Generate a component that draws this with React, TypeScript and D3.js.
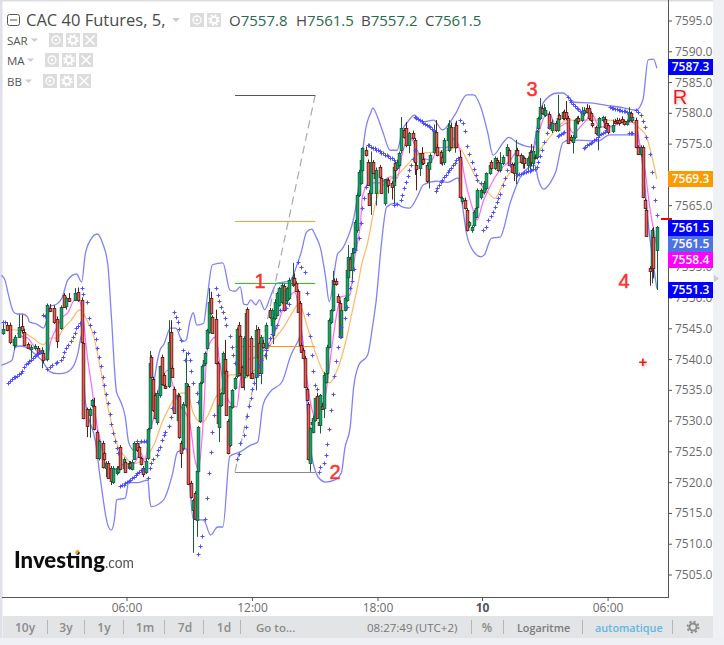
import React from "react";
import * as d3 from "d3";

type Bar = [number, number, number, number, number]; // slot, open, high, low, close
type Pt = [number, number]; // slot, price

const barsNight: Bar[] = [
[1,7544.3,7546.3,7544,7545],[3,7545.6,7546.1,7544.6,7544.8],[5,7545.6,7546,7542.5,7542.9],[7,7542.4,7543.7,7541.6,7543.3],[8,7542.4,7544,7542,7543.7],[10,7543.7,7547.3,7543.5,7545.3],[12,7545.4,7547.3,7544.2,7544.8],[13,7544.5,7545,7542.2,7542.4],[15,7542.5,7542.8,7541.7,7541.9],[17,7541.7,7542.4,7540.2,7542],[19,7541.9,7542.5,7541.5,7542.2],[21,7541.9,7542.2,7540.8,7541.1],[23,7541,7542,7538.6,7541.6],[24,7541,7541.4,7539.4,7539.9],[26,7540.1,7549.1,7539.7,7548.9],[28,7548.4,7549,7547.7,7547.9],[30,7548.4,7548.8,7545.8,7546.1],[32,7546.6,7547,7541.9,7543],[34,7545.1,7548.8,7544.8,7548.5],[36,7550.5,7550.8,7548.4,7548.5],[37,7548.7,7550.2,7548.1,7550],[39,7550,7550.8,7549.4,7549.5],[42,7549.7,7551.6,7549.5,7550.8],[44,7551,7551.7,7549.4,7549.7],[46,7549.7,7550.1,7542.6,7542.9],[47,7542.7,7543,7530.3,7530.5],[49,7532,7532.2,7527.4,7529.2],[51,7531,7532.2,7527.3,7532],[52,7532.6,7533.6,7532.2,7533.4],[53,7532.5,7533.8,7528.5,7528.7],[55,7528.2,7528.5,7523.9,7524],[56,7524,7527,7523.6,7526.8],[58,7526.5,7526.8,7522.3,7522.6],[59,7524.8,7525,7523.6,7523.9],[60,7522.4,7523.5,7520.9,7523.2],[61,7523.2,7523.5,7520.6,7520.8],[63,7522.4,7522.7,7519.6,7520.3],[64,7520.1,7522.7,7519.8,7522.4],[66,7521.6,7522.7,7521.2,7522.4],[67,7521.8,7522.7,7521.5,7522.4],[68,7525.8,7526.1,7522,7522.2],[70,7522.4,7524.1,7522,7523.9],[71,7523.4,7523.6,7521.6,7521.8],[73,7522.4,7523.5,7522.1,7523.2],[74,7523.2,7523.5,7522.2,7522.6],[75,7522.2,7523.7,7522,7523.4],[76,7523.9,7526.7,7523.7,7526.5],[78,7526.5,7526.8,7525,7525.3],[79,7525.8,7526,7524,7524.2],[80,7524,7524.2,7522.8,7523],[81,7522.4,7522.7,7520.9,7521.4],[83,7521.7,7524,7521.4,7523.5],[84,7524,7528.9,7523.7,7528.7],
];
const barsMorning: Bar[] = [
[85,7528.9,7541.4,7528.7,7539.4],[86,7540.4,7540.7,7537,7537.2],[87,7536.8,7537.2,7531.5,7531.8],[88,7534.2,7534.6,7530.3,7530.5],[89,7529.9,7535,7529.4,7534.6],[91,7534.2,7539,7533.8,7538.9],[92,7540.4,7540.8,7535.8,7536],[93,7537.5,7537.8,7535.7,7535.9],[94,7535.7,7536,7535.2,7535.4],[96,7535.7,7546.4,7535.4,7542.9],[97,7544.5,7546.4,7538.4,7538.6],[98,7538.6,7539,7537,7537.2],[99,7535.2,7535.6,7531.2,7531.3],[101,7530.2,7534.6,7529.9,7534.2],[102,7534.1,7534.4,7527.1,7527.4],[103,7526.5,7526.8,7522.4,7524.8],[104,7525.6,7533.1,7525.2,7532.8],[106,7532.6,7541.2,7532.2,7536.2],[107,7535.7,7536,7519.6,7519.8],[109,7520,7520.3,7517.4,7517.6],[110,7515.6,7517.4,7508.6,7517.2],[111,7518.3,7518.6,7514,7514.1],[112,7513.9,7522.1,7511.2,7521.9],[113,7521.9,7529.2,7521.6,7529],[114,7530,7536.4,7529.7,7536.2],[115,7536.4,7539.2,7536,7539],[116,7539.1,7540.2,7538.9,7539.9],[117,7539.4,7541.3,7539.2,7541],[118,7541.9,7545,7541.6,7544.8],[119,7544.5,7551.6,7544.2,7549.4],[120,7550,7551,7547.3,7547.6],[121,7546.9,7547.2,7544.2,7544.3],[123,7546.6,7548.1,7539.2,7539.4],[124,7539.4,7539.7,7529.5,7529.7],[125,7529.1,7532.7,7526.6,7532.6],[126,7532.6,7534.7,7532.3,7534.6],[127,7534.6,7541.3,7534.3,7541.1],[128,7540.1,7543.2,7537.6,7537.8],[129,7538.1,7538.4,7531,7531],[130,7530,7530.3,7524.6,7524.8],[131,7526.1,7532.5,7525.8,7532.5],[132,7532.3,7535.2,7532,7535.1],[134,7535.4,7537.2,7535.1,7537],[135,7537.3,7545.2,7537,7545],[136,7545.6,7546.1,7537.3,7537.5],[137,7543.8,7544.1,7537.6,7537.8],[138,7538.8,7539,7535.4,7535.6],[139,7537.2,7543.8,7535,7543.5],[140,7537.8,7548.1,7537.5,7547.6],[141,7548.2,7548.5,7537.2,7537.5],
];
const barsMidday: Bar[] = [
[143,7543.5,7543.8,7537,7537],[144,7537.8,7538,7536.8,7537],[146,7537.2,7545.6,7535,7544.8],[147,7545,7545.3,7540.2,7540.4],[148,7542.7,7543,7537.6,7537.8],[149,7537.8,7544,7536,7543.7],[150,7542.7,7543.2,7541.8,7542.1],[152,7541.9,7546,7540,7545.6],[154,7548.1,7548.4,7546.6,7546.9],[155,7545.6,7548.3,7544,7548.1],[156,7544,7547,7542.5,7546.8],[157,7546.8,7549.8,7546.4,7549.4],[158,7547.2,7551,7547,7550.8],[159,7548.9,7551.8,7548.6,7551.6],[161,7549.4,7552.4,7549,7552.1],[162,7552,7552.3,7547.8,7548.1],[163,7549.2,7551.6,7549,7551.3],[164,7549.7,7551.8,7549,7551.6],[165,7550,7553.3,7549.7,7552.9],[167,7552.1,7555.7,7551.8,7553.4],[168,7553.3,7554,7552,7552.3],[169,7552.4,7552.7,7551,7551.1],[170,7551.1,7551.4,7547.7,7547.7],[171,7549.2,7549.5,7542.1,7542.4],[172,7542.4,7542.7,7541.1,7541.2],[173,7541.6,7541.9,7540.1,7540.3],[174,7540.3,7540.6,7535.4,7535.6],[175,7535.2,7535.5,7533.2,7533.4],[176,7532.8,7533.1,7523.6,7523.9],[177,7523.2,7529,7521.8,7528.9],[178,7529.9,7530.2,7529.4,7529.5],[179,7528.2,7530.9,7528,7530.5],[180,7530.2,7533.8,7529.9,7533.8],[181,7534.1,7534.6,7530.5,7530.5],[182,7529.9,7530.2,7529.2,7529.4],[183,7529.4,7534.4,7528,7534.2],[184,7532.5,7533,7531.8,7532],[185,7532.1,7538,7530.5,7537.5],[186,7536.4,7538.2,7536.1,7537.8],[187,7537.8,7542.4,7537.5,7542.1],[188,7542.1,7546.7,7541.8,7546.4],[189,7546.1,7548.2,7545.8,7548.1],[190,7548.1,7554.4,7547.8,7552.9],[191,7552.8,7553.2,7552,7552.3],[192,7552.8,7553.2,7552,7552.3],[193,7550.3,7550.7,7549.2,7549.4],[194,7549.2,7549.6,7543.4,7543.7],[195,7543.7,7548.3,7543.4,7548.1],[197,7548.1,7550.2,7547.8,7550],[198,7549.7,7554.8,7549.4,7554.6],
];
const barsEvening: Bar[] = [
[199,7553.4,7558.6,7553,7556.7],[200,7556.3,7556.7,7554.4,7554.6],[201,7554.6,7558.1,7553,7557.3],[202,7557.5,7559,7557.2,7558.1],[203,7557.8,7562.7,7557.5,7562.3],[204,7561,7567,7560.6,7566.7],[205,7566.7,7570.8,7566.4,7570.5],[206,7568.7,7572.6,7568.4,7572.4],[207,7570.8,7574.5,7570.5,7574.4],[209,7574,7574.6,7573,7573.2],[210,7572.1,7572.5,7568.4,7568.4],[211,7567.1,7567.5,7565,7565.1],[212,7567.1,7573.8,7563.5,7572.1],[213,7572.1,7572.4,7570.2,7570.3],[214,7570.3,7570.6,7569.3,7569.5],[215,7567.1,7571.2,7565,7570.8],[217,7571.3,7571.6,7569.5,7569.7],[218,7569.5,7569.8,7567,7567.1],[220,7565.4,7569.3,7565,7569.3],[221,7568.7,7569.4,7568,7569.2],[222,7569.2,7569.5,7567,7568.4],[224,7568.7,7569,7566,7568],[225,7568.4,7571.6,7565,7571.3],[226,7571.9,7572.2,7568.8,7570.8],[227,7571.1,7572.5,7570.8,7572.1],[228,7571.6,7573.8,7571.2,7573.5],[229,7574,7579.4,7573.5,7577.6],[231,7577.3,7577.6,7575.9,7576.2],[232,7577.6,7578.6,7574.5,7574.9],[234,7574.9,7577,7573.5,7576.8],[236,7576.8,7577.2,7575.7,7576],[237,7575.7,7576,7570,7572.1],[238,7571.6,7572,7567.5,7571],[240,7571.1,7573.5,7569.8,7573.5],[241,7573.5,7574.5,7571.6,7572.1],[242,7572.6,7573,7571.6,7571.9],[244,7571.6,7572,7568.7,7569],[245,7571,7572.3,7567.8,7572.1],[246,7572.1,7573.5,7571.8,7573.2],[248,7573.7,7578.2,7573.4,7577.1],[249,7577,7578.9,7574,7574],[250,7574.5,7575,7573,7573.2],[252,7573.7,7574,7571.7,7571.9],[253,7572.9,7573.2,7571.5,7572.1],[254,7572.1,7576,7571.6,7575.7],[256,7575.7,7578.4,7575.4,7577.6],[257,7574,7578.9,7573.7,7578.1],[258,7577.8,7578.5,7574.3,7574.5],[260,7574.5,7578.5,7573.6,7577.8],[261,7578.1,7578.8,7574.3,7574.5],
];
const barsAsia: Bar[] = [
[263,7572.9,7574,7566.2,7566.4],[264,7565.8,7566.5,7565.2,7566.2],[266,7565.9,7566.3,7564.4,7564.6],[267,7564.3,7564.6,7560.8,7561],[268,7561.9,7562.5,7561.4,7562.3],[270,7561,7561.8,7560.6,7561.5],[271,7561.9,7564.3,7561.5,7564],[272,7563.2,7564.9,7563,7564.6],[273,7564.8,7567.8,7564.4,7567.5],[275,7566.4,7567.8,7566,7567.5],[276,7567.5,7568,7567,7567.2],[277,7567.2,7569,7566.8,7568.7],[278,7567.9,7570.4,7567.5,7570.3],[280,7570.3,7571.8,7570,7571.6],[281,7572.1,7572.4,7570.8,7571.1],[283,7571.1,7573,7570.8,7572.7],[284,7572.4,7572.8,7571.6,7571.9],[285,7572.1,7572.4,7570.5,7570.8],[286,7570.8,7573.7,7570.4,7571.9],[288,7571.9,7573.2,7571.6,7572.9],[290,7573.2,7575,7573,7574.5],[291,7574,7574.3,7571.4,7571.6],[293,7571.8,7572,7570.3,7570.5],[294,7571.6,7572,7569,7570.3],[295,7570.3,7575.7,7568.5,7574],[296,7574,7574.4,7573,7573.2],[298,7573.2,7573.5,7571.8,7572.1],[299,7571.9,7573.2,7571,7572.9],[300,7572.7,7573,7571,7571.9],[302,7571.6,7573,7570.5,7572.7],[303,7571.9,7574,7570.5,7573.7],[304,7573.7,7575,7571.4,7572.1],[305,7571.9,7574.6,7570.8,7573.9],[306,7572.9,7573.3,7572.5,7572.7],[307,7572.9,7577.3,7572.5,7577.1],[308,7577.6,7579.4,7577.2,7579.2],[309,7579.2,7582.5,7578.9,7581],[310,7580.9,7581.3,7579.8,7580],[311,7579.9,7581.5,7579.5,7580.5],[312,7579.7,7581,7579.4,7580.5],[314,7579.9,7580.3,7577.4,7577.6],[315,7578.3,7578.6,7577.2,7577.6],[316,7577.3,7579,7576.8,7578.4],[318,7578.4,7578.8,7577,7577.3],[319,7577.3,7583,7577,7579.2],[320,7579.7,7580,7578.9,7579.1],
];
const barsOpen: Bar[] = [
[322,7579.2,7580.4,7578.9,7580.2],[323,7580.2,7580.6,7578.9,7579.2],[324,7580.2,7582,7578.9,7579.2],[325,7579.2,7579.6,7575,7575.2],[327,7576.2,7576.5,7575.4,7575.7],[328,7575.3,7576.5,7573.5,7576.2],[329,7576.2,7579.1,7575.8,7578.9],[330,7578.6,7579.5,7578.2,7579.2],[331,7579.2,7579.6,7578.2,7578.7],[333,7578.9,7581,7578.6,7580.2],[334,7580,7581,7579.6,7580.5],[336,7580.9,7581.5,7580,7580.2],[337,7580.9,7581.3,7578.9,7579.2],[338,7580,7580.3,7578.6,7578.9],[339,7578.4,7578.8,7577.7,7578.1],[341,7577.8,7578,7576.5,7576.8],[342,7576.5,7578,7574,7577.8],[343,7577.8,7579.4,7577.4,7579.2],[345,7578.9,7579.6,7578.5,7579.4],[346,7579.1,7579.5,7577.5,7577.8],[347,7578.4,7578.8,7577.2,7577.6],[348,7578.1,7578.4,7576.6,7577],[351,7577.1,7579,7576.8,7578.1],[352,7578.7,7579.1,7578.2,7578.4],[353,7578.9,7579.3,7578.2,7578.6],[354,7578.9,7579.2,7578,7578.4],[356,7579.1,7579.5,7578.4,7578.6],[357,7578.7,7579,7578,7578.3],[359,7578.3,7579,7578,7578.7],[360,7578.9,7581,7578.6,7580.2],[361,7580,7580.3,7578.6,7578.9],[362,7578.9,7579.6,7578.5,7579.4],[364,7578.9,7579.3,7574.3,7574.5],[365,7574.5,7574.8,7573.2,7573.4],[367,7573.4,7574.8,7573,7574.5],[368,7574.5,7574.8,7566.2,7566.4],[369,7565.9,7566.2,7564.4,7564.6],[370,7564.3,7564.6,7560,7560.1],[372,7554.9,7555.2,7552,7554.4],[373,7555,7561.3,7552.4,7561],[374,7559.9,7561.5,7553.2,7554.9],[376,7557.8,7561.7,7551.3,7561.5],
];

const bbUpper: Pt[] = [
[0,7553.7],[2,7552.9],[4,7550.5],[7,7547.7],[9,7547.4],[12,7547.4],[15,7546.9],[16,7546.1],[20,7545.8],[24,7545.1],[26,7546.4],[28,7548.7],[31,7548.9],[35,7550.2],[38,7552.9],[43,7553.9],[46,7552.6],[48,7557],[51,7559.4],[55,7560.4],[58,7558.9],[61,7555.4],[63,7547.2],[66,7534.7],[68,7533.4],[71,7530.7],[73,7526.5],[76,7525.3],[80,7526.5],[84,7526.6],[87,7535.1],[91,7541.6],[93,7542.4],[97,7545.1],[100,7545.1],[104,7542.9],[106,7543.2],[108,7546.1],[110,7547.6],[112,7545.6],[116,7545.9],[118,7550],[121,7555.4],[127,7555.7],[131,7551.3],[134,7551.1],[137,7551.8],[139,7549],[141,7548.9],[143,7549.7],[146,7548.9],[148,7549.7],[151,7548.1],[154,7550],[158,7552.4],[163,7552.6],[166,7552.9],[168,7554.2],[172,7557.5],[175,7560.7],[178,7561.2],[180,7560.2],[183,7558.1],[186,7553.3],[188,7549.4],[193,7557.3],[194,7557.5],[198,7559.4],[203,7564.3],[206,7570.8],[209,7577.6],[212,7580.2],[213,7580.9],[216,7579.2],[219,7576.8],[223,7574],[227,7574],[230,7577.3],[233,7578.6],[237,7579.7],[241,7578.6],[248,7578.9],[253,7577.3],[260,7579.7],[267,7583],[271,7583],[275,7581],[279,7576.8],[282,7573.2],[288,7575.3],[291,7576.1],[296,7575.2],[305,7574.5],[307,7577.3],[311,7581.8],[319,7583.3],[322,7583.3],[329,7581.8],[338,7581.7],[347,7581.3],[357,7580.9],[364,7580.5],[368,7582.2],[371,7588.7],[374,7588.8],[376,7587.3],
];
const bbLower: Pt[] = [
[0,7539.1],[3,7539.4],[6,7539.9],[8,7542],[11,7542.2],[15,7541.9],[18,7541.2],[23,7539.9],[28,7538],[32,7537.7],[36,7537.8],[41,7538.8],[44,7541.2],[46,7544],[48,7533.4],[54,7526.5],[57,7520],[61,7513.1],[63,7512.3],[65,7514.4],[66,7517.2],[71,7517.5],[73,7520],[78,7520],[84,7520.4],[85,7517.2],[86,7516.1],[93,7517.2],[98,7521.3],[101,7525],[106,7525.5],[110,7514.1],[116,7513.9],[120,7511.5],[124,7512.8],[127,7512.8],[131,7524.3],[137,7525],[143,7526.1],[147,7526.6],[150,7532.6],[154,7534.7],[161,7536.4],[166,7540.7],[170,7542.9],[172,7544],[177,7526.1],[182,7520.8],[186,7520.1],[191,7520.4],[195,7521.6],[197,7525.6],[200,7528.9],[202,7535.4],[205,7539.1],[210,7540.7],[213,7545.6],[215,7549.7],[218,7558.9],[221,7564.8],[226,7565.4],[230,7564.8],[234,7564.6],[239,7566.7],[242,7568.4],[250,7569],[256,7568.8],[262,7569.5],[264,7565.9],[267,7560.2],[271,7557.5],[275,7556.7],[277,7557],[281,7559.7],[286,7559.9],[292,7565.6],[298,7569.8],[306,7571.6],[308,7569.2],[311,7567.7],[315,7568.8],[318,7570.5],[322,7575.2],[326,7575.7],[342,7575.5],[349,7576.5],[364,7576.5],[368,7571.3],[371,7562.2],[376,7551.5],
];
const maFast: Pt[] = [
[9,7544.3],[12,7543.7],[15,7543.5],[18,7542.4],[23,7541.2],[26,7539.9],[28,7542.7],[31,7544.8],[35,7546.9],[38,7547.6],[42,7549.7],[45,7549.4],[47,7546.4],[49,7541.1],[52,7535.1],[55,7529],[57,7526.5],[59,7523.4],[62,7522.1],[65,7522.1],[69,7522.9],[76,7523.2],[80,7524.8],[82,7523.4],[85,7528.1],[88,7531.3],[91,7536.2],[96,7538.3],[98,7536.2],[101,7533.4],[108,7529.7],[111,7523.7],[113,7522.1],[116,7531.3],[118,7541.6],[123,7543.7],[125,7539.9],[128,7535.1],[131,7533],[135,7532.3],[137,7536.7],[141,7539.9],[146,7540.4],[151,7541.6],[158,7545.3],[162,7548.6],[166,7550.5],[168,7551],[171,7547.6],[174,7539.9],[177,7533.4],[180,7530.7],[184,7532.3],[186,7534.3],[188,7538.6],[193,7548.4],[195,7550.2],[200,7550.5],[202,7555.4],[205,7560.2],[206,7562.2],[207,7566.4],[211,7568.7],[217,7568.7],[223,7569.7],[227,7569.5],[230,7573.5],[234,7576.2],[239,7573.7],[242,7572.7],[247,7572.4],[250,7574.4],[256,7574.5],[260,7576],[263,7574],[266,7569.2],[270,7564.8],[273,7562.7],[276,7565.4],[280,7568],[286,7570.8],[292,7572.4],[295,7573.5],[302,7571.9],[307,7575.7],[312,7579.7],[314,7580],[319,7577.6],[324,7578.4],[328,7576.8],[334,7578.4],[339,7579.7],[343,7577.8],[349,7577.8],[355,7578.4],[361,7578.6],[364,7578.4],[366,7575.3],[369,7571.1],[372,7564.6],[376,7558.4],
];
const maSlow: Pt[] = [
[5,7544.8],[9,7544.8],[13,7544.3],[18,7543.5],[24,7542.4],[28,7543.5],[32,7543.5],[35,7544.8],[40,7546.4],[45,7548.1],[49,7546.4],[53,7543.7],[55,7541.1],[58,7536.7],[61,7532.3],[64,7528.6],[67,7525.7],[71,7524.2],[75,7523.1],[80,7523.4],[84,7524.5],[88,7526.5],[92,7529.7],[97,7532.6],[101,7534.3],[104,7534.6],[107,7534.3],[110,7531.3],[115,7529.7],[118,7530.7],[123,7533.9],[127,7535.5],[131,7537.5],[135,7537.5],[140,7537],[144,7538],[148,7539.1],[155,7542.7],[162,7545.3],[167,7547.7],[170,7548.9],[172,7548.4],[176,7544.8],[180,7541.2],[184,7538.3],[188,7536.2],[193,7538.6],[198,7543.5],[202,7548.9],[205,7552.9],[206,7554.6],[210,7558.9],[215,7565.9],[220,7568.7],[226,7569.7],[234,7572],[240,7573.5],[248,7573.7],[256,7574],[262,7574.5],[268,7571.9],[273,7569.2],[279,7567.2],[283,7566.2],[288,7568.7],[296,7571.9],[305,7572.7],[311,7574.9],[319,7577.6],[324,7578.9],[334,7578.9],[347,7578.9],[361,7578.6],[365,7577.8],[370,7576.2],[373,7573.2],[376,7569.3],
];

const sarEarly: Pt[] = [
[1,7546.1],[2,7546.1],[4,7536.2],[5,7536.5],[6,7536.9],[7,7537.1],[8,7537.2],[9,7537.4],[10,7537.6],[11,7537.8],[12,7538.2],[13,7538.8],[14,7539.2],[15,7539.5],[16,7539.8],[17,7540],[18,7540.3],[19,7540.5],[20,7540.7],[21,7540.9],[22,7541.2],[24,7547.3],[25,7547.1],
[26,7538.5],[28,7538.8],[29,7539.1],[31,7539.4],[32,7539.6],[34,7539.9],[35,7540.4],[36,7541.2],[37,7541.9],[38,7542.4],[40,7543],[41,7543.7],[42,7544.3],[43,7545.1],[44,7545.5],[45,7546],
[46,7551.6],[47,7550.6],[49,7549.3],[50,7546.8],[51,7545.6],[53,7544.5],[54,7543.3],[55,7541.9],[56,7540.4],[57,7539],[58,7537.2],[59,7535.9],[60,7534.4],[61,7533],[62,7531.2],[63,7529.5],[64,7528.1],[65,7526.8],[66,7525.6],[67,7524.8],
[68,7519.5],[69,7519.6],[70,7519.7],[71,7519.9],[72,7520.1],[73,7520.3],[74,7520.5],[75,7520.8],[76,7521],[77,7521.3],[78,7521.6],[79,7521.8],[80,7522],[81,7522.2],
[78,7526.7],[80,7526.7],[82,7526.7],[83,7526.7],
];
const sarMorning: Pt[] = [
[84,7520.7],[85,7522.4],[86,7523.2],[87,7523.8],[89,7524.5],[90,7525.3],[91,7525.8],[92,7526.9],[93,7527.7],[94,7528.2],[96,7529.2],[97,7530.7],[98,7532.1],
[99,7547.7],[100,7546.9],[101,7546.1],[102,7545],[103,7543.2],[104,7541.6],[105,7539.9],[107,7541],[108,7539.9],[109,7538.1],[110,7536.2],[112,7534.6],[113,7533.1],
[113,7508.4],[114,7509.7],[115,7511.3],[117,7514.1],[118,7517.5],[119,7521.6],[120,7525],[121,7528.3],[122,7531],
[123,7551.6],[124,7550.5],[125,7549.5],[126,7548.5],[127,7547.7],[128,7546.7],[129,7545.6],[131,7543.8],[132,7542],[133,7540.7],[134,7539.4],
[135,7523.8],[136,7524.7],[137,7526.4],[139,7527.7],[140,7529],[141,7530.8],[142,7532.5],[143,7533.8],[144,7535.2],[145,7536.2],[147,7537.5],[148,7539],[149,7539.9],[151,7540.7],[152,7541.6],[153,7542.4],[154,7543.5],[155,7544.2],[157,7545.1],[158,7545.6],[160,7548],[163,7548.4],[165,7549],
];
const sarMidday: Pt[] = [
[170,7555.8],[172,7555],[174,7554.2],[175,7550.8],[176,7547.4],[177,7543.8],[178,7540.7],[179,7538.1],[180,7535.9],[181,7535.2],
[182,7521.7],[183,7522.5],[185,7523.2],[186,7524.5],[187,7526.3],[188,7528.7],[189,7531.8],[190,7534.4],[191,7537.3],[192,7539.8],[193,7542],[194,7543.8],[195,7545.3],[197,7546.8],[198,7548.5],[200,7551.6],[201,7552.8],[202,7554.7],[203,7557.8],[205,7559.8],[206,7562.2],[207,7564.6],[208,7566.2],[209,7568],
[210,7574.9],[211,7574.8],[212,7574.6],[213,7574.4],[214,7574.3],[215,7574.1],[216,7574],[217,7573.8],[218,7573.6],[219,7573.5],[220,7573.3],[221,7573.2],[222,7573],[223,7572.8],[224,7572.7],[225,7572.5],
[225,7565.1],[227,7565.3],[229,7565.9],[230,7566.7],[231,7567.9],[232,7568.9],[233,7569.8],[234,7570.8],[235,7571.6],[236,7572.6],[237,7574],
[237,7579.4],[238,7579.2],[239,7579],[240,7578.9],[241,7578.7],[242,7578.5],[243,7578.3],[244,7578.1],[245,7577.9],[246,7577.7],[247,7577.5],[248,7577.3],
[249,7567.4],[250,7567.9],[251,7568.3],[252,7568.8],[253,7569.2],[254,7569.6],[255,7570],[256,7570.4],[257,7570.8],[258,7571.2],[259,7571.6],[260,7572],[261,7572.4],[262,7572.8],
];
const sarLate: Pt[] = [
[263,7578.9],[265,7578.4],[266,7577.1],[267,7574.7],[268,7573.4],[270,7572.1],[271,7571],[272,7570],[273,7569.2],[275,7568.7],
[276,7561],[278,7561.5],[279,7562.7],[281,7563.3],[282,7564],[283,7564.8],[284,7565.6],[285,7566.2],[286,7566.9],[288,7568.4],[289,7569.5],[290,7570.8],[292,7571.6],
[296,7570],[297,7570.1],[298,7570.2],[299,7570.3],[300,7570.4],[301,7570.5],[302,7570.6],[303,7570.7],[304,7570.8],[305,7570.9],[306,7571],[307,7571.3],[308,7572.1],[309,7573.1],[310,7574],[311,7575.3],[313,7576.8],[314,7577.8],
[319,7576.3],[320,7576.4],[321,7576.6],[322,7576.8],[323,7576.9],
[325,7582.6],[326,7582.2],[327,7581.8],[328,7581.5],[329,7581.2],[330,7580.9],[331,7580.7],[332,7580.4],[333,7580.2],
[334,7574.4],[335,7574.6],[336,7574.8],[337,7575],[338,7575.2],[339,7575.4],[340,7575.7],[341,7575.9],[342,7576.1],[343,7576.4],[344,7576.6],[345,7576.8],[346,7577],[347,7577.3],
[349,7581],[350,7580.9],[351,7580.8],[352,7580.7],[353,7580.7],[354,7580.6],[355,7580.5],[356,7580.4],[357,7580.3],[358,7580.3],[359,7580.2],
[360,7576.8],[361,7576.8],[362,7576.8],
[364,7580.5],[365,7580.2],[367,7579.7],[368,7578.7],[369,7577.8],[370,7576.2],[372,7573.4],[373,7570.5],[374,7568],[375,7565.9],[376,7563.5],
];

// 7560 and 7570 sit fully behind price tags in the reference, so no label is drawn for them
const priceTicks = [7505, 7510, 7515, 7520, 7525, 7530, 7535, 7540, 7545, 7550, 7555, 7565, 7575, 7580, 7585, 7590, 7595];
const tickMarks = d3.range(7505, 7596, 5);
const timeTicks: [number, string, boolean][] = [[72, "06:00", false], [144, "12:00", false], [216, "18:00", false], [276, "10", true], [348, "06:00", false]];
const rangeButtons: [string, number][] = [["10y", 25], ["3y", 66], ["1y", 104], ["1m", 145], ["7d", 185], ["1d", 224]];
const rangeSeparators = [47, 84, 123, 164, 203, 240];
const footSeparators = [471, 503, 582, 672];
const fibLevels: [number, string][] = [[7583, "#555"], [7562.5, "#e8a040"], [7552.4, "#22cc22"], [7542.2, "#ff9900"], [7521.8, "#888"]];
const priceTags: [string, number, string][] = [["7587.3", 67, "#0000ff"], ["7569.3", 179, "#ff9900"], ["7561.5", 228, "#0000ff"], ["7561.5", 244, "#4f72e3"], ["7558.4", 260, "#ff00ff"], ["7551.3", 290, "#0000ff"]];
const ohlcLegend: [string, string, number][] = [["O", "7557.8", 229], ["H", "7561.5", 296], ["B", "7557.2", 361], ["C", "7561.5", 425]];
const indicatorRows: [string, number, number][] = [["SAR", 40, 49], ["MA", 60, 45], ["BB", 81, 43]];
const waveLabels: [string, number, number][] = [["1", 260, 288], ["2", 335, 479], ["3", 532, 96], ["4", 624, 288]];

const x = d3.scaleLinear().domain([0, 376]).range([1.5, 1.5 + 376 * 1.743]);
const y = d3.scaleLinear().domain([7505, 7595]).range([575, 21]);
const line = d3.line<Pt>().x((d) => x(d[0])).y((d) => y(d[1])).curve(d3.curveMonotoneX);

const allBars = [...barsNight, ...barsMorning, ...barsMidday, ...barsEvening, ...barsAsia, ...barsOpen];
const allSar = [...sarEarly, ...sarMorning, ...sarMidday, ...sarLate];

const UI = "'Open Sans','Noto Sans',sans-serif";

function IconBox({ px, py, kind }: { px: number; py: number; kind: "eye" | "gear" | "x" }) {
  const c = px + 7;
  const m = py + 7;
  return (
    <g>
      <rect x={px} y={py} width={14} height={14} fill="#dcdcdc" />
      {kind === "eye" && <><circle cx={c} cy={m} r={4} fill="none" stroke="#fff" strokeWidth={1.3} /><circle cx={c} cy={m} r={1.3} fill="#fff" /></>}
      {kind === "gear" && <><circle cx={c} cy={m} r={3.3} fill="none" stroke="#fff" strokeWidth={2} /><circle cx={c} cy={m} r={5} fill="none" stroke="#fff" strokeWidth={1.6} strokeDasharray="2 1.9" /></>}
      {kind === "x" && <path d={`M${c - 4.5},${m - 4.5}L${c + 4.5},${m + 4.5}M${c + 4.5},${m - 4.5}L${c - 4.5},${m + 4.5}`} stroke="#fff" strokeWidth={1.6} />}
    </g>
  );
}

export default function App() {
  const fibX0 = 134;
  const fibX1 = 180;
  return (
    <svg width={724} height={645} style={{ position: "absolute", left: 0, top: 0, background: "#fff" }}>
      <defs>
        <filter id="soft" x="-50%" y="-50%" width="200%" height="200%">
          <feDropShadow dx="1" dy="1.5" stdDeviation="1.5" floodColor="#888" floodOpacity="0.6" />
        </filter>
        <filter id="logoBlur"><feGaussianBlur stdDeviation="0.35" /></filter>
      </defs>
      <rect x={0} y={0} width={2.5} height={645} fill="#dfe0e8" />
      <rect x={0} y={0} width={724} height={1.5} fill="#dcdde2" />
      <rect x={713} y={0} width={11} height={645} fill="#f0f1f5" />
      <rect x={0} y={638} width={724} height={7} fill="#eef0f5" />

      {/* price axis */}
      {tickMarks.map((t) => (
        <line key={t} x1={668} x2={672} y1={y(t)} y2={y(t)} stroke="#555" />
      ))}
      {priceTicks.map((t) => (
        <text key={t} x={675} y={y(t) + 4} fontSize={12} fill="#6b6b6b" fontFamily={UI}>{t.toFixed(1)}</text>
      ))}

      {/* indicators */}
      <g fill="none">
        <path d={line(bbUpper) ?? ""} stroke="#8080ff" strokeWidth={1.3} />
        <path d={line(bbLower) ?? ""} stroke="#8080ff" strokeWidth={1.3} />
        <path d={line(maSlow) ?? ""} stroke="#ffb866" strokeWidth={1.2} />
        <path d={line(maFast) ?? ""} stroke="#ff66ff" strokeWidth={1.2} />
      </g>

      {/* fib tool */}
      <path d={`M${x(fibX0)},${y(7521.8)}L${x(fibX1)},${y(7583)}`} stroke="#aaa" strokeWidth={1.2} strokeDasharray="8 5" />
      {fibLevels.map(([lv, c]) => (
        <line key={lv} x1={x(fibX0)} x2={x(fibX1)} y1={Math.round(y(lv)) + 0.5} y2={Math.round(y(lv)) + 0.5} stroke={c} />
      ))}

      {/* candles */}
      {allBars.map(([s, o, h, l, c]) => {
        const up = c >= o;
        const px = Math.round(x(s)) - 1;
        const top = Math.round(y(Math.max(o, c)));
        const bot = Math.round(y(Math.min(o, c)));
        const dark = up ? "#1a5c3c" : "#5c1c1c";
        return (
          <g key={s}>
            <line x1={px + 1.5} x2={px + 1.5} y1={y(h)} y2={y(l)} stroke={dark} />
            <rect x={px + 0.2} y={top + 0.5} width={2.6} height={Math.max(bot - top, 1)} fill={up ? "#05ad66" : "#f65a4e"} stroke={dark} strokeWidth={0.9} />
          </g>
        );
      })}

      {/* parabolic SAR */}
      <path
        d={allSar.map(([s, p]) => {
          const a = Math.round(x(s)) + 0.5;
          const b = Math.round(y(p)) + 0.5;
          return `M${a - 2},${b}H${a + 2}M${a},${b - 2}V${b + 2}`;
        }).join("")}
        stroke="#4d4dff"
        strokeWidth={1}
        fill="none"
      />

      {/* annotations */}
      {waveLabels.map(([t, a, b]) => (
        <text key={t} x={a} y={b} textAnchor="middle" fontSize={20} fill="#ff3030" stroke="#ff3030" strokeWidth={0.5} fontFamily="'Liberation Sans',sans-serif">{t}</text>
      ))}
      <text x={680} y={104} textAnchor="middle" fontSize={20} fill="#f01818" fontFamily="'Liberation Sans',sans-serif" filter="url(#soft)">R</text>
      <text x={643} y={367} textAnchor="middle" fontSize={15} fontWeight={700} fill="#f01818" fontFamily="'Liberation Sans',sans-serif" filter="url(#soft)">+</text>
      <line x1={661} x2={672} y1={219} y2={219} stroke="#f00000" strokeWidth={2} />

      {/* axes */}
      <line x1={668.5} x2={668.5} y1={0} y2={598} stroke="#555" />
      <line x1={2} x2={669} y1={597.5} y2={597.5} stroke="#555" />
      {timeTicks.map(([s, t, bold]) => (
        <g key={`${s}${t}`}>
          <line x1={x(s)} x2={x(s)} y1={597} y2={601} stroke="#555" />
          <text x={x(s)} y={612} textAnchor="middle" fontSize={12} fontWeight={bold ? 700 : 400} fill={bold ? "#555" : "#6b6b6b"} fontFamily={UI}>{t}</text>
        </g>
      ))}

      {/* price tags */}
      {priceTags.map(([t, py, c]) => (
        <g key={`${t}${py}`}>
          <rect x={668} y={py - 8} width={45} height={16} fill={c} />
          <text x={690.5} y={py + 4.3} textAnchor="middle" fontSize={12} fontWeight={600} fill="#fff" fontFamily={UI}>{t}</text>
        </g>
      ))}
      <path d="M714,275l5,3.5l-5,3.5z" fill="#ccc" />

      {/* legend */}
      <rect x={7.5} y={14.5} width={12} height={11} rx={2} fill="none" stroke="#555" />
      <line x1={10} x2={17} y1={20} y2={20} stroke="#555" />
      <text x={26} y={26} fontSize={16.5} fill="#4a4a4a" fontFamily={UI}>CAC 40 Futures, 5,</text>
      <path d="M172,18h8l-4,4z" fill="#ccc" />
      <IconBox px={190} py={13} kind="eye" />
      <IconBox px={207} py={13} kind="gear" />
      {ohlcLegend.map(([k, v, px]) => (
        <text key={k} x={px} y={26} fontSize={15} fontFamily={UI} fill="#4a4a4a">{k}<tspan fill="#2b6a4d">{v}</tspan></text>
      ))}
      {indicatorRows.map(([name, py, bx]) => (
        <g key={name}>
          <text x={7} y={py + 4.5} fontSize={11.5} fill="#555" fontFamily={UI}>{name}</text>
          <path d={`M${bx - 18},${py - 1.5}h7l-3.5,3.5z`} fill="#ccc" />
          <IconBox px={bx} py={py - 7} kind="eye" />
          <IconBox px={bx + 17} py={py - 7} kind="gear" />
          <IconBox px={bx + 34} py={py - 7} kind="x" />
        </g>
      ))}

      {/* watermark */}
      <g filter="url(#logoBlur)">
        <text x={14} y={568} fontSize={22} fontWeight={900} fill="#111" fontFamily="Lato,Inter,sans-serif" textLength={91} lengthAdjust="spacingAndGlyphs">Investing</text>
        <text x={105} y={568} fontSize={15} fill="#555" fontFamily="Lato,Inter,sans-serif" textLength={29} lengthAdjust="spacingAndGlyphs">.com</text>
        <ellipse cx={77} cy={552} rx={1.5} ry={2.5} fill="#f5a623" transform="rotate(30 77 552)" />
      </g>

      {/* footer */}
      <rect x={3} y={616} width={710} height={22} fill="#e3e4e6" />
      {rangeButtons.map(([t, cx]) => (
        <text key={t} x={cx} y={632} textAnchor="middle" fontSize={12} fontWeight={600} fill="#8b8b8b" fontFamily={UI}>{t}</text>
      ))}
      {[...rangeSeparators, ...footSeparators].map((sx) => (
        <line key={sx} x1={sx + 0.5} x2={sx + 0.5} y1={620} y2={634} stroke="#b5b5b5" />
      ))}
      <text x={256} y={632} fontSize={11.5} fontWeight={600} fill="#8b8b8b" fontFamily={UI}>Go to...</text>
      <text x={367} y={632} fontSize={11.5} fill="#777" fontFamily={UI}>08:27:49 (UTC+2)</text>
      <text x={487} y={632} textAnchor="middle" fontSize={12} fontWeight={600} fill="#8b8b8b" fontFamily={UI}>%</text>
      <text x={517} y={632} fontSize={10.8} fontWeight={600} fill="#7a7a7a" fontFamily={UI}>Logaritme</text>
      <text x={595} y={632} fontSize={10.8} fontWeight={600} fill="#5bb8e8" fontFamily={UI}>automatique</text>
      <circle cx={693} cy={627} r={3.6} fill="none" stroke="#8b8b8b" strokeWidth={2} />
      <circle cx={693} cy={627} r={5.5} fill="none" stroke="#8b8b8b" strokeWidth={1.8} strokeDasharray="2.2 2.1" />
    </svg>
  );
}
